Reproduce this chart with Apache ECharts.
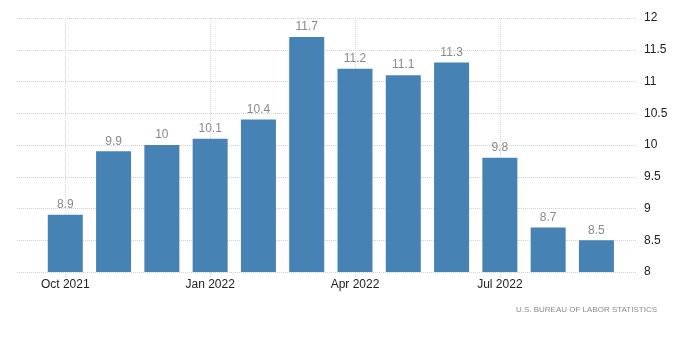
<!DOCTYPE html>
<html>
<head>
<meta charset="utf-8">
<script src="https://cdn.jsdelivr.net/npm/echarts@6/dist/echarts.min.js"></script>
<style>html,body{margin:0;padding:0;background:#fff;}#c{width:700px;height:362px;}</style>
</head>
<body>
<div id="c"></div>
<script>
const months = ["Oct 2021","Nov 2021","Dec 2021","Jan 2022","Feb 2022","Mar 2022","Apr 2022","May 2022","Jun 2022","Jul 2022","Aug 2022","Sep 2022"];
const values = [8.9, 9.9, 10, 10.1, 10.4, 11.7, 11.2, 11.1, 11.3, 9.8, 8.7, 8.5];
const tickIndices = [0, 3, 6, 9];
const yTicks = [8, 8.5, 9, 9.5, 10, 10.5, 11, 11.5, 12];
const sourceText = "U.S. BUREAU OF LABOR STATISTICS";

const chart = echarts.init(document.getElementById('c'), null, {renderer: 'canvas'});
const font = '"Liberation Sans", Arial, sans-serif';
chart.setOption({
  animation: false,
  grid: {left: 17, right: 63, top: 18, bottom: 90, containLabel: false},
  xAxis: {
    type: 'value',
    min: -1,
    max: 11.84,
    axisLine: {show: false},
    axisTick: {show: true, length: 5, customValues: tickIndices, lineStyle: {color: '#d0d0d0', type: 'dotted'}},
    axisLabel: {
      customValues: tickIndices,
      formatter: v => months[Math.round(v)] || '',
      color: '#222', fontSize: 12, fontFamily: font, margin: 7
    },
    splitLine: {show: true, lineStyle: {color: '#d6d6d6', type: 'dotted', width: 1}}
  },
  yAxis: {
    type: 'value',
    position: 'right',
    min: yTicks[0],
    max: yTicks[yTicks.length - 1],
    interval: 0.5,
    axisLine: {show: false},
    axisTick: {show: false},
    axisLabel: {color: '#222', fontSize: 12, fontFamily: font, margin: 7},
    splitLine: {show: true, lineStyle: {color: '#d0d0d0', type: 'dotted', width: 1}}
  },
  series: [{
    type: 'bar',
    data: values.map((v, i) => [i, v]),
    barWidth: 35,
    itemStyle: {color: '#4682b4'},
    label: {show: true, position: 'top', distance: 4, color: '#8a8a8a', fontSize: 12, fontFamily: font}
  }],
  graphic: [{
    type: 'text',
    right: 43,
    top: 306,
    style: {text: sourceText, fill: '#8a8a8a', font: '8px ' + font}
  }]
});
</script>
</body>
</html>
